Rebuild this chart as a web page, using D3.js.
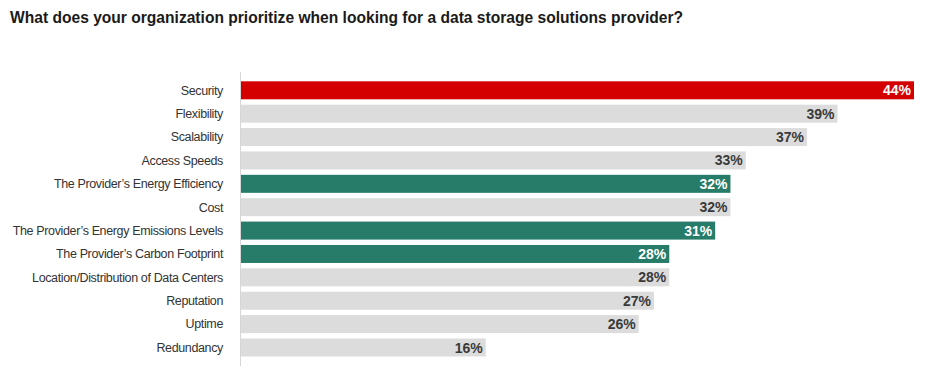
<!DOCTYPE html>
<html>
<head>
<meta charset="utf-8">
<script src="https://cdn.jsdelivr.net/npm/d3@7"></script>
<style>
  body { margin: 0; background: #fff; }
  svg text { font-family: "Liberation Sans", Arial, sans-serif; }
</style>
</head>
<body>
<div id="chart"></div>
<script>
const title = "What does your organization prioritize when looking for a data storage solutions provider?";
const categories = [
  "Security", "Flexibility", "Scalability", "Access Speeds",
  "The Provider\u2019s Energy Efficiency", "Cost", "The Provider\u2019s Energy Emissions Levels",
  "The Provider\u2019s Carbon Footprint", "Location/Distribution of Data Centers",
  "Reputation", "Uptime", "Redundancy"
];
const values = [44, 39, 37, 33, 32, 32, 31, 28, 28, 27, 26, 16];
// which group each bar belongs to (drives colour)
const groups = ["top", "other", "other", "other", "energy", "other", "energy", "energy", "other", "other", "other", "other"];

const width = 927, height = 371;
const colors = { top: "#d40000", energy: "#267c69", other: "#dcdcdc" };

const svg = d3.select("#chart").append("svg")
  .attr("width", width)
  .attr("height", height);

const x = d3.scaleLinear().domain([0, 44]).range([241, 914]);
const y = d3.scaleBand().domain(categories).range([78.5, 359.3]).paddingInner(0.23).paddingOuter(0.12);

// title
svg.append("text")
  .attr("x", 10)
  .attr("y", 23)
  .attr("font-size", "17px")
  .attr("font-weight", "bold")
  .attr("fill", "#1a1a1a")
  .attr("textLength", 673)
  .attr("lengthAdjust", "spacingAndGlyphs")
  .text(title);

// axis line
svg.append("line")
  .attr("x1", 240.5).attr("x2", 240.5)
  .attr("y1", 72).attr("y2", 366)
  .attr("stroke", "#d6d6d6");

const rows = svg.selectAll("g.row")
  .data(categories)
  .enter().append("g")
  .attr("class", "row");

rows.append("rect")
  .attr("x", x(0))
  .attr("y", d => y(d))
  .attr("width", (d, i) => x(values[i]) - x(0))
  .attr("height", y.bandwidth())
  .attr("fill", (d, i) => colors[groups[i]]);

rows.append("text")
  .attr("x", 223)
  .attr("y", d => y(d) + y.bandwidth() / 2)
  .attr("dy", "0.35em")
  .attr("text-anchor", "end")
  .attr("font-size", "12.5px")
  .attr("letter-spacing", "-0.36px")
  .attr("fill", "#333")
  .text(d => d);

rows.append("text")
  .attr("x", (d, i) => x(values[i]) - 3)
  .attr("y", d => y(d) + y.bandwidth() / 2)
  .attr("dy", "0.36em")
  .attr("text-anchor", "end")
  .attr("font-size", "14px")
  .attr("font-weight", "bold")
  .attr("fill", (d, i) => groups[i] === "other" ? "#3a3a3a" : "#fff")
  .text((d, i) => values[i] + "%");
</script>
</body>
</html>
